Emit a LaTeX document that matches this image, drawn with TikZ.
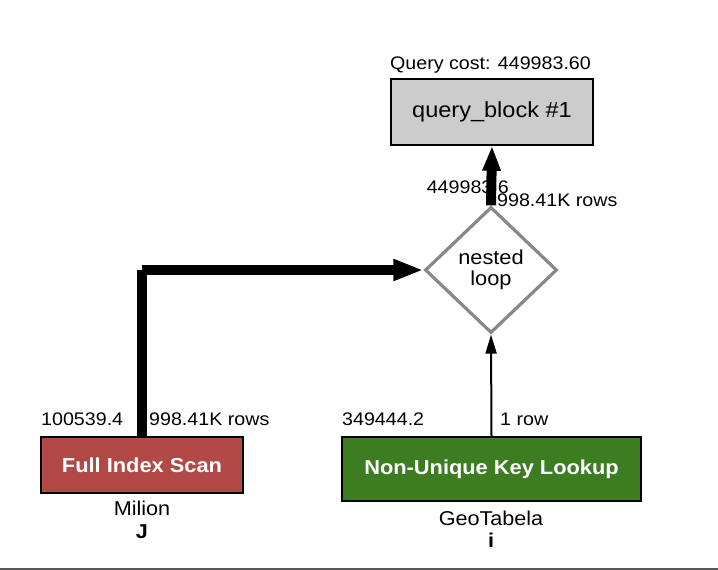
\documentclass[tikz,border=0pt]{standalone}
\usepackage{fontspec}
\setmainfont{Liberation Sans}[FakeStretch=1.08]
\usetikzlibrary{shapes.geometric,arrows.meta}
\definecolor{fisred}{HTML}{B14A46}
\definecolor{nukgreen}{HTML}{3C7D22}
\definecolor{qbgray}{HTML}{CCCCCC}
\definecolor{dgray}{HTML}{888888}
\definecolor{footline}{HTML}{58585A}
\begin{document}
\begin{tikzpicture}[x=1pt,y=-1pt,
  lbl/.style={inner sep=0pt, font=\fontsize{18.2}{21}\selectfont},
  tablbl/.style={inner sep=0pt, font=\fontsize{20}{23}\selectfont},
  aliaslbl/.style={inner sep=0pt, font=\bfseries\fontsize{20}{23}\selectfont},
  opbox/.style={draw=black, line width=2pt, inner sep=0pt, text=white, font=\bfseries\fontsize{20.2}{24}\selectfont},
  bigflow/.style={line width=10pt},
  thinflow/.style={line width=2pt, -{Triangle[length=19pt,width=11pt]}},
]
\useasboundingbox (0,0) rectangle (718,570);
\fill[white] (0,0) rectangle (718,570);
\fill[footline] (0,567.5) rectangle (718,570);

\node[draw=black, line width=1.5pt, fill=qbgray, minimum width=202pt, minimum height=66pt, inner sep=0pt, font=\fontsize{21.8}{26}\selectfont] (qb) at (492,112) {query\_block \#1};
\node[lbl, anchor=base] (qc) at (490.5,69) {Query cost: 449983.60};

\node[diamond, draw=dgray, line width=3.2pt, minimum width=132pt, minimum height=126pt, inner sep=0pt, align=center, font=\fontsize{20.2}{20.5}\selectfont] (nl) at (491,270) {nested\\loop};

\node[opbox, fill=fisred, minimum width=202pt, minimum height=56pt] (fis) at (142,465) {Full Index Scan};
\node[opbox, fill=nukgreen, minimum width=299pt, minimum height=64pt] (nuk) at (491.5,469) {\raisebox{4pt}{Non-Unique Key Lookup}};

\node[lbl, anchor=base west] (fiscost) at (41,425) {100539.4};
\node[lbl, anchor=base west] (fisrows) at (149,425) {998.41K rows};
\node[lbl, anchor=base west] (nukcost) at (342,425) {349444.2};
\node[lbl, anchor=base west] (nukrows) at (500,425) {1 row};
\node[lbl, anchor=base east] (nlcost) at (509,193) {449983.6};
\node[lbl, anchor=base west] (nlrows) at (497,206.5) {998.41K rows};
\node[tablbl, anchor=base] (fistab) at (142,515) {Milion};
\node[aliaslbl, anchor=base] (fisalias) at (142,538) {J};
\node[tablbl, anchor=base] (nuktab) at (491,525) {GeoTabela};
\node[aliaslbl, anchor=base] (nukalias) at (491,547) {i};

\coordinate (bend) at (fis.north |- nl.west);
\draw[bigflow] (fis.north) -- (bend);
\draw[bigflow, -{Triangle[length=30pt,width=20pt]}] (bend) -- (nl.west);
\draw[bigflow, -{Triangle[length=25pt,width=17pt]}] (nl.north) -- (qb.south);
\draw[thinflow] (nuk.north) -- (nl.south);
\end{tikzpicture}
\end{document}
